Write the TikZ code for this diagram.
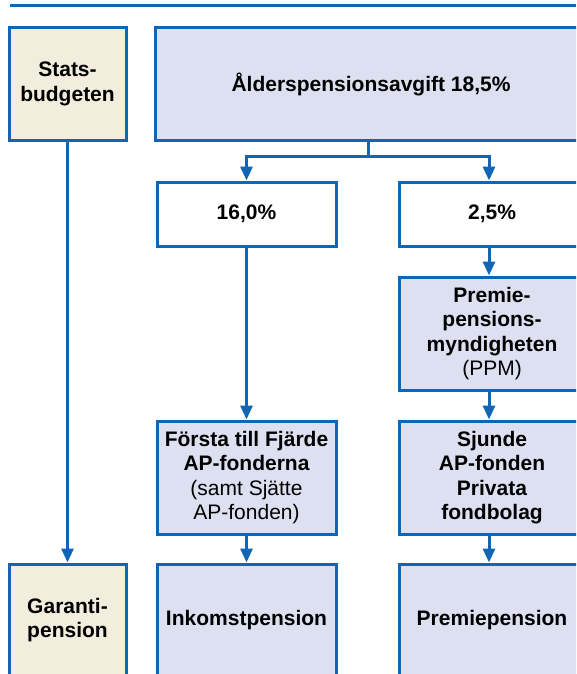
\documentclass[tikz,border=0pt]{standalone}
\usepackage{fontspec}
\setmainfont{Liberation Sans}
\usetikzlibrary{arrows.meta}
\definecolor{pensionBlue}{RGB}{16,102,180}
\definecolor{stateBeige}{RGB}{242,237,220}
\definecolor{fundLilac}{RGB}{220,224,241}

\begin{document}
\begin{tikzpicture}[x=1pt,y=-1pt,
		box/.style={draw=pensionBlue, line width=3pt, rectangle, align=center, inner sep=2pt, font=\fontsize{21}{24.5}\selectfont},
		stateBox/.style={box, fill=stateBeige, minimum width=117pt, minimum height=112pt},
		fundBox/.style={box, fill=fundLilac, minimum width=186pt, minimum height=113pt},
		shareBox/.style={box, fill=white, minimum width=186pt, minimum height=64pt},
		link/.style={draw=pensionBlue, line width=3pt},
		flow/.style={link, -{Triangle[width=12pt,length=14pt]}}]
				
				\useasboundingbox (0,0) rectangle (576,674);
				\clip (0,0) rectangle (576,674);
				
				\coordinate (ruleL) at (10,6);
				\coordinate (ruleR) at (576,6);
				\draw[link] (ruleL) -- (ruleR);
				
				\node[stateBox] (Stats) at (67.5,84) {\bfseries Stats-\\\bfseries budgeten};
				\node[fundBox, minimum width=432pt, minimum height=112pt] (Avgift) at (371,84) {\bfseries Ålderspensionsavgift 18,5\%};
				
				\node[shareBox, minimum width=179pt] (Share160) at (246.5,214) {\bfseries 16,0\%};
				\node[shareBox] (Share25) at (492,214) {\bfseries 2,5\%};
				\coordinate (Split) at (368,156);
				\coordinate (SplitR) at (489,156);
				\draw[link] (Avgift.south -| Split) -- (Split);
				\draw[flow] (Split) -| (Share160);
				\draw[flow] (Split) -- (SplitR) -- (Share25.north -| SplitR);
				
				\node[fundBox] (PPM) at (492,333.5) {\bfseries Premie-\\\bfseries pensions-\\\bfseries myndigheten\\(PPM)};
				\draw[flow] (Share25.south -| SplitR) -- (PPM.north -| SplitR);
				
				\node[fundBox, minimum width=179pt] (APfirst) at (246.5,477.5) {\bfseries Första till Fjärde\\\bfseries AP-fonderna\\(samt Sjätte\\AP-fonden)};
				\node[fundBox] (APseventh) at (492,477.5) {\bfseries Sjunde\\\bfseries AP-fonden\\\bfseries Privata\\\bfseries fondbolag};
				\draw[flow] (Share160) -- (APfirst);
				\draw[flow] (PPM.south -| SplitR) -- (APseventh.north -| SplitR);
				
				\node[stateBox] (Garanti) at (67.5,620) {\bfseries Garanti-\\\bfseries pension};
				\node[fundBox, minimum width=179pt, minimum height=112pt] (Inkomst) at (246.5,620) {\bfseries Inkomstpension};
				\node[fundBox, minimum height=112pt] (Premie) at (492,620) {\bfseries Premiepension};
				\draw[flow] (Stats) -- (Garanti);
				\draw[flow] (APfirst) -- (Inkomst);
				\draw[flow] (APseventh.south -| SplitR) -- (Premie.north -| SplitR);
				
			\end{tikzpicture}
\end{document}
